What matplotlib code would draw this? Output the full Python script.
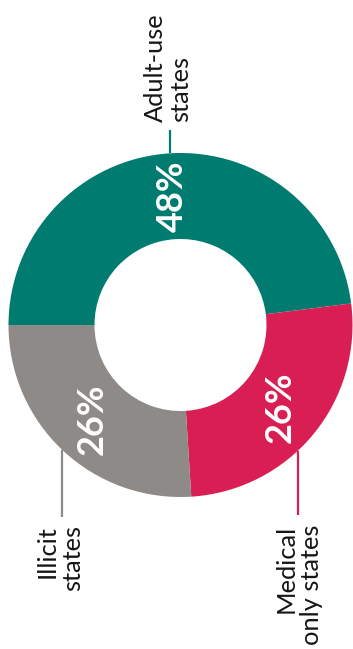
import numpy as np
import matplotlib
matplotlib.use("Agg")
import matplotlib.pyplot as plt

# Share of states by cannabis legal status
categories = ["Adult-use\nstates", "Medical\nonly states", "Illicit\nstates"]
shares = [48, 26, 26]
colors = ["#007b70", "#d81e53", "#8e8a88"]

W, H = 353, 649
fig = plt.figure(figsize=(W / 100, H / 100), dpi=100)
ax = fig.add_axes([0, 0, 1, 1])

cx, cy, R = 180.5, 324.0, 172.0
ring = 0.5

wedges, _, autotexts = ax.pie(
    shares, colors=colors, center=(cx, cy), radius=R,
    startangle=180, counterclock=False,
    autopct=lambda p: f"{p:.0f}%", pctdistance=0.75,
    wedgeprops=dict(width=R * ring, linewidth=0),
    textprops=dict(color="white", fontsize=26, fontweight="bold",
                   family="Lato"),
    frame=True,
)
ax.set_xlim(0, W)
ax.set_ylim(0, H)
ax.set_aspect("equal")
ax.axis("off")
for t in autotexts:
    t.set_rotation(90)
    t.set_ha("center")
    t.set_va("center")

label_font = dict(fontsize=18.3, color="#161616", family="Lato", rotation=90,
                  linespacing=1.15)

def ring_y(x, side):
    return cy + side * np.sqrt(R ** 2 - (x - cx) ** 2)

# Adult-use: leader above the ring, text above it
x0 = 170
ax.plot([x0, x0], [ring_y(x0, 1), 519], color=colors[0], lw=1.6,
        solid_capstyle="butt")
ax.text(168, 527, categories[0], ha="center", va="bottom",
        multialignment="left", **label_font)

# Medical only: leader below the ring
x1 = 298
ax.plot([x1, x1], [ring_y(x1, -1), 134], color=colors[1], lw=1.6,
        solid_capstyle="butt")
ax.text(299, 124, categories[1], ha="center", va="top",
        multialignment="right", **label_font)

# Illicit: leader below the ring
x2 = 62
ax.plot([x2, x2], [ring_y(x2, -1), 132], color=colors[2], lw=1.6,
        solid_capstyle="butt")
ax.text(60, 124, categories[2], ha="center", va="top",
        multialignment="right", **label_font)

fig.savefig("out.png", dpi=100, facecolor="white")
